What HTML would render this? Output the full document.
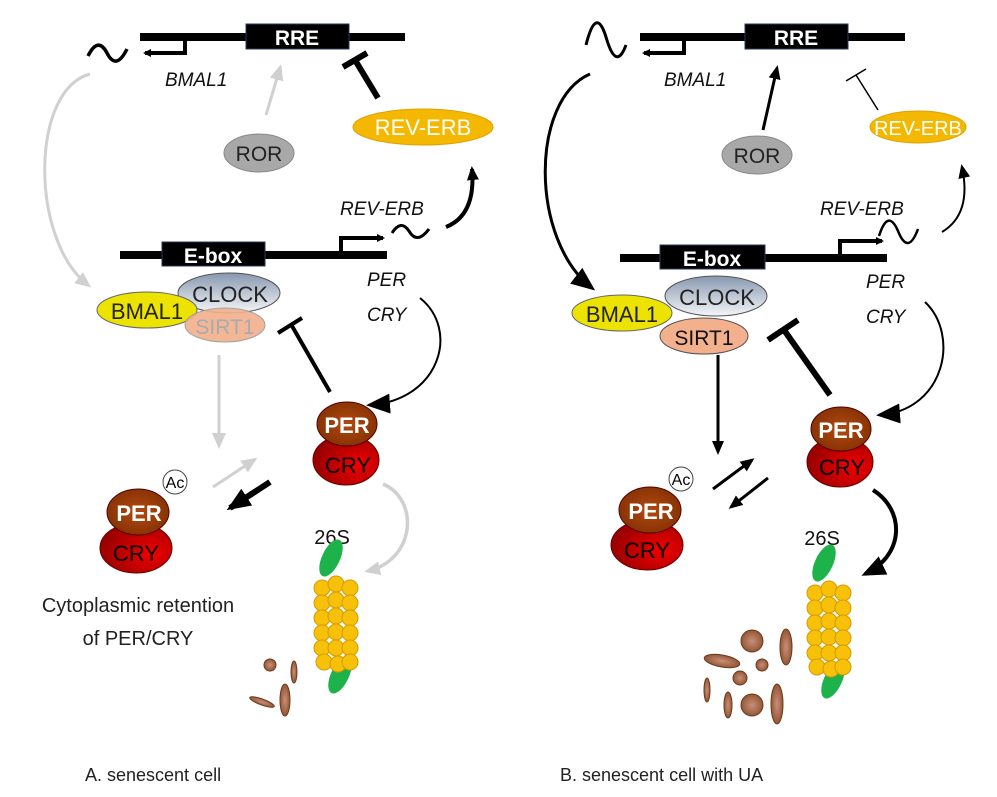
<!DOCTYPE html>
<html><head><meta charset="utf-8"><style>
html,body{margin:0;padding:0;background:#fff}
svg{display:block}
text{font-family:"Liberation Sans","DejaVu Sans",sans-serif}
</style></head><body>
<svg width="997" height="797" viewBox="0 0 997 797" xmlns="http://www.w3.org/2000/svg">
<defs>
<radialGradient id="cry" cx="0.7" cy="0.6" r="0.8"><stop offset="0" stop-color="#f00000"/><stop offset="1" stop-color="#8a0000"/></radialGradient>
<radialGradient id="per" cx="0.5" cy="0.5" r="0.7"><stop offset="0" stop-color="#b04a10"/><stop offset="1" stop-color="#7a2a00"/></radialGradient>
<linearGradient id="clk" x1="0" y1="0" x2="0" y2="1"><stop offset="0" stop-color="#8898b0"/><stop offset="1" stop-color="#f4f6f8"/></linearGradient>
<radialGradient id="frag" cx="0.5" cy="0.5" r="0.6"><stop offset="0" stop-color="#c89078"/><stop offset="1" stop-color="#8a4a2a"/></radialGradient>
<marker id="ab" markerWidth="8" markerHeight="8" refX="6" refY="4" orient="auto" markerUnits="userSpaceOnUse"><path d="M0,0 L8,4 L0,8z" fill="#000"/></marker>
<marker id="abL" markerWidth="24" markerHeight="20" refX="20" refY="10" orient="auto" markerUnits="userSpaceOnUse"><path d="M0,0 L24,10 L0,20z" fill="#000"/></marker>
<marker id="ag" markerWidth="16" markerHeight="14" refX="12" refY="7" orient="auto" markerUnits="userSpaceOnUse"><path d="M0,0 L16,7 L0,14z" fill="#d0d0d0"/></marker>
<marker id="ab2" markerWidth="14" markerHeight="12" refX="11" refY="6" orient="auto" markerUnits="userSpaceOnUse"><path d="M0,0 L14,6 L0,12z" fill="#000"/></marker>
<g id="proteasome">
<ellipse cx="-3" cy="-12" rx="9" ry="20" transform="rotate(25 -3 -12)" fill="#1db34a"/>
<ellipse cx="6" cy="105" rx="9" ry="20" transform="rotate(25 6 105)" fill="#1db34a"/>
<g fill="#f7c10a" stroke="#d49a00" stroke-width="1">
<circle cx="-12" cy="18" r="8"/><circle cx="2" cy="14" r="8"/><circle cx="16" cy="18" r="8"/>
<circle cx="-12" cy="33" r="8"/><circle cx="2" cy="30" r="8"/><circle cx="16" cy="33" r="8"/>
<circle cx="-12" cy="48" r="8"/><circle cx="2" cy="46" r="8"/><circle cx="16" cy="48" r="8"/>
<circle cx="-12" cy="63" r="8"/><circle cx="2" cy="62" r="8"/><circle cx="16" cy="63" r="8"/>
<circle cx="-12" cy="78" r="8"/><circle cx="2" cy="78" r="8"/><circle cx="16" cy="78" r="8"/>
<circle cx="-10" cy="92" r="8"/><circle cx="4" cy="94" r="8"/><circle cx="16" cy="92" r="8"/>
</g></g>
</defs>

<!-- ============ PANEL A ============ -->
<g>
<line x1="140" y1="37" x2="405" y2="37" stroke="#000" stroke-width="8"/>
<rect x="246" y="24" width="103" height="25" fill="#000" stroke="#2a3a5a"/>
<text x="297" y="45" font-size="21" font-weight="bold" fill="#fff" text-anchor="middle">RRE</text>
<polyline points="185,37 185,53 145,53" fill="none" stroke="#000" stroke-width="4" marker-end="url(#ab)"/>
<path d="M88,56 q10,-20 19,-3 q9,18 20,-4" fill="none" stroke="#000" stroke-width="3.5"/>
<text x="165" y="86" font-size="19" font-style="italic" fill="#111">BMAL1</text>
<line x1="266" y1="115" x2="280" y2="68" stroke="#d0d0d0" stroke-width="3" marker-end="url(#ag)"/>
<line x1="378" y1="98" x2="355" y2="60" stroke="#000" stroke-width="6"/>
<line x1="343" y1="67" x2="367" y2="53" stroke="#000" stroke-width="6"/>
<ellipse cx="423" cy="127" rx="70" ry="18" fill="#f5b800" stroke="#e0a000"/>
<text x="423" y="135" font-size="22" fill="#fff" text-anchor="middle">REV-ERB</text>
<ellipse cx="259" cy="153" rx="35" ry="19" fill="#a8a8a8" stroke="#888"/>
<text x="259" y="161" font-size="21" fill="#222" text-anchor="middle">ROR</text>
<text x="340" y="215" font-size="19" font-style="italic" fill="#111">REV-ERB</text>
<path d="M392,233 q9,-14 17,-2 q8,14 20,-2" fill="none" stroke="#000" stroke-width="3"/>
<path d="M446,227 q30,-12 26,-58" fill="none" stroke="#000" stroke-width="4" marker-end="url(#ab2)"/>
<line x1="120" y1="255" x2="387" y2="255" stroke="#000" stroke-width="8"/>
<rect x="162" y="242" width="103" height="24" fill="#000" stroke="#2a3a5a"/>
<text x="213" y="263" font-size="21" font-weight="bold" fill="#fff" text-anchor="middle">E-box</text>
<polyline points="341,255 341,238 383,238" fill="none" stroke="#000" stroke-width="4" marker-end="url(#ab)"/>
<text x="367" y="286" font-size="19" font-style="italic" fill="#111">PER</text>
<text x="367" y="321" font-size="19" font-style="italic" fill="#111">CRY</text>
<path d="M90,74 C30,90 30,240 88,285" fill="none" stroke="#d0d0d0" stroke-width="3" marker-end="url(#ag)"/>
<ellipse cx="229" cy="293" rx="51" ry="20" fill="url(#clk)" stroke="#555"/>
<text x="230" y="302" font-size="22" fill="#222" text-anchor="middle">CLOCK</text>
<ellipse cx="147" cy="310" rx="50" ry="18" fill="#ece400" stroke="#666"/>
<text x="147" y="319" font-size="22" fill="#222" text-anchor="middle">BMAL1</text>
<ellipse cx="225" cy="325" rx="40" ry="17" fill="#f2b08c" stroke="#999" opacity="0.9"/>
<text x="225" y="334" font-size="21" fill="#aaa" text-anchor="middle">SIRT1</text>
<line x1="330" y1="392" x2="292" y2="326" stroke="#000" stroke-width="4"/>
<line x1="278" y1="333" x2="302" y2="318" stroke="#000" stroke-width="4"/>
<path d="M420,298 C460,330 440,400 370,405" fill="none" stroke="#000" stroke-width="2" marker-end="url(#abL)"/>
<line x1="219" y1="355" x2="219" y2="445" stroke="#d0d0d0" stroke-width="3" marker-end="url(#ag)"/>
<ellipse cx="346" cy="460" rx="33" ry="25" fill="url(#cry)" stroke="#600"/>
<text x="348" y="473" font-size="22" fill="#000" text-anchor="middle">CRY</text>
<ellipse cx="347" cy="424" rx="30" ry="22" fill="url(#per)" stroke="#500"/>
<text x="347" y="433" font-size="22" font-weight="bold" fill="#fff" text-anchor="middle">PER</text>
<line x1="213" y1="487" x2="254" y2="460" stroke="#d0d0d0" stroke-width="3" marker-end="url(#ag)"/>
<line x1="270" y1="482" x2="230" y2="508" stroke="#000" stroke-width="6" marker-end="url(#abL)"/>
<circle cx="175" cy="482" r="12" fill="#fff" stroke="#444"/>
<text x="175" y="488" font-size="16" fill="#000" text-anchor="middle">Ac</text>
<ellipse cx="136" cy="548" rx="36" ry="25" fill="url(#cry)" stroke="#600"/>
<text x="136" y="561" font-size="22" fill="#000" text-anchor="middle">CRY</text>
<ellipse cx="138" cy="512" rx="31" ry="23" fill="url(#per)" stroke="#500"/>
<text x="139" y="521" font-size="22" font-weight="bold" fill="#fff" text-anchor="middle">PER</text>
<text x="138" y="612" font-size="20" fill="#222" text-anchor="middle">Cytoplasmic retention</text>
<text x="138" y="645" font-size="20" fill="#222" text-anchor="middle">of PER/CRY</text>
<text x="332" y="544" font-size="20" fill="#111" text-anchor="middle">26S</text>
<path d="M383,484 C420,500 415,560 368,571" fill="none" stroke="#d0d0d0" stroke-width="3.5" marker-end="url(#ag)"/>
<use href="#proteasome" x="334" y="570"/>
<circle cx="270" cy="665" r="6" fill="url(#frag)" stroke="#6a3a1a"/>
<ellipse cx="294" cy="672" rx="3" ry="11" fill="url(#frag)" stroke="#6a3a1a"/>
<ellipse cx="285" cy="700" rx="5" ry="16" fill="url(#frag)" stroke="#6a3a1a"/>
<ellipse cx="262" cy="702" rx="13" ry="3" transform="rotate(20 262 702)" fill="url(#frag)" stroke="#6a3a1a"/>
<text x="85" y="781" font-size="18" fill="#222">A. senescent cell</text>
</g>

<!-- ============ PANEL B ============ -->
<g>
<line x1="640" y1="37" x2="905" y2="37" stroke="#000" stroke-width="8"/>
<rect x="745" y="24" width="103" height="25" fill="#000" stroke="#2a3a5a"/>
<text x="796" y="45" font-size="21" font-weight="bold" fill="#fff" text-anchor="middle">RRE</text>
<polyline points="684,37 684,53 644,53" fill="none" stroke="#000" stroke-width="4" marker-end="url(#ab)"/>
<path d="M586,45 q10,-40 20,-8 q10,35 20,8" fill="none" stroke="#000" stroke-width="3"/>
<text x="664" y="86" font-size="19" font-style="italic" fill="#111">BMAL1</text>
<line x1="763" y1="130" x2="777" y2="68" stroke="#000" stroke-width="3" marker-end="url(#ab2)"/>
<line x1="878" y1="110" x2="856" y2="75" stroke="#000" stroke-width="1.5"/>
<line x1="846" y1="81" x2="866" y2="69" stroke="#000" stroke-width="1.5"/>
<ellipse cx="918" cy="127" rx="48" ry="16" fill="#f5b800" stroke="#e0a000"/>
<text x="918" y="135" font-size="20" fill="#fff" text-anchor="middle">REV-ERB</text>
<ellipse cx="757" cy="155" rx="35" ry="19" fill="#a8a8a8" stroke="#888"/>
<text x="757" y="163" font-size="21" fill="#222" text-anchor="middle">ROR</text>
<text x="820" y="215" font-size="19" font-style="italic" fill="#111">REV-ERB</text>
<path d="M879,236 q9,-28 19,-5 q10,25 20,-2" fill="none" stroke="#000" stroke-width="2.5"/>
<path d="M942,232 q30,-18 20,-65" fill="none" stroke="#000" stroke-width="2" marker-end="url(#ab2)"/>
<line x1="620" y1="258" x2="887" y2="258" stroke="#000" stroke-width="8"/>
<rect x="660" y="245" width="105" height="24" fill="#000" stroke="#2a3a5a"/>
<text x="712" y="266" font-size="21" font-weight="bold" fill="#fff" text-anchor="middle">E-box</text>
<polyline points="840,258 840,241 882,241" fill="none" stroke="#000" stroke-width="4" marker-end="url(#ab)"/>
<text x="866" y="288" font-size="19" font-style="italic" fill="#111">PER</text>
<text x="866" y="323" font-size="19" font-style="italic" fill="#111">CRY</text>
<path d="M590,74 C530,100 530,240 592,288" fill="none" stroke="#000" stroke-width="3" marker-end="url(#abL)"/>
<ellipse cx="716" cy="296" rx="51" ry="20" fill="url(#clk)" stroke="#555"/>
<text x="717" y="305" font-size="22" fill="#222" text-anchor="middle">CLOCK</text>
<ellipse cx="622" cy="313" rx="50" ry="18" fill="#ece400" stroke="#666"/>
<text x="622" y="322" font-size="22" fill="#222" text-anchor="middle">BMAL1</text>
<ellipse cx="704" cy="336" rx="44" ry="18" fill="#f2b08c" stroke="#555"/>
<text x="704" y="345" font-size="21" fill="#111" text-anchor="middle">SIRT1</text>
<line x1="830" y1="395" x2="784" y2="330" stroke="#000" stroke-width="6"/>
<line x1="768" y1="340" x2="798" y2="320" stroke="#000" stroke-width="6"/>
<path d="M925,302 C960,335 945,410 880,415" fill="none" stroke="#000" stroke-width="2" marker-end="url(#abL)"/>
<line x1="718" y1="355" x2="718" y2="452" stroke="#000" stroke-width="3" marker-end="url(#ab2)"/>
<ellipse cx="840" cy="462" rx="33" ry="25" fill="url(#cry)" stroke="#600"/>
<text x="842" y="475" font-size="22" fill="#000" text-anchor="middle">CRY</text>
<ellipse cx="841" cy="429" rx="30" ry="22" fill="url(#per)" stroke="#500"/>
<text x="841" y="438" font-size="22" font-weight="bold" fill="#fff" text-anchor="middle">PER</text>
<line x1="713" y1="489" x2="752" y2="460" stroke="#000" stroke-width="3" marker-end="url(#ab2)"/>
<line x1="768" y1="478" x2="731" y2="507" stroke="#000" stroke-width="3" marker-end="url(#ab2)"/>
<circle cx="681" cy="479" r="12" fill="#fff" stroke="#444"/>
<text x="681" y="485" font-size="16" fill="#000" text-anchor="middle">Ac</text>
<ellipse cx="647" cy="545" rx="36" ry="25" fill="url(#cry)" stroke="#600"/>
<text x="647" y="558" font-size="22" fill="#000" text-anchor="middle">CRY</text>
<ellipse cx="650" cy="510" rx="31" ry="23" fill="url(#per)" stroke="#500"/>
<text x="651" y="519" font-size="22" font-weight="bold" fill="#fff" text-anchor="middle">PER</text>
<text x="822" y="545" font-size="20" fill="#111" text-anchor="middle">26S</text>
<path d="M873,490 C905,510 905,555 865,574" fill="none" stroke="#000" stroke-width="4" marker-end="url(#abL)"/>
<use href="#proteasome" x="827" y="575"/>
<circle cx="752" cy="641" r="11" fill="url(#frag)" stroke="#6a3a1a"/>
<ellipse cx="786" cy="647" rx="6" ry="18" fill="url(#frag)" stroke="#6a3a1a"/>
<ellipse cx="722" cy="661" rx="18" ry="6" transform="rotate(10 722 661)" fill="url(#frag)" stroke="#6a3a1a"/>
<circle cx="762" cy="665" r="6" fill="url(#frag)" stroke="#6a3a1a"/>
<circle cx="740" cy="678" r="7" fill="url(#frag)" stroke="#6a3a1a"/>
<ellipse cx="707" cy="690" rx="3" ry="12" fill="url(#frag)" stroke="#6a3a1a"/>
<ellipse cx="728" cy="705" rx="4" ry="13" fill="url(#frag)" stroke="#6a3a1a"/>
<circle cx="752" cy="705" r="11" fill="url(#frag)" stroke="#6a3a1a"/>
<ellipse cx="777" cy="704" rx="6" ry="20" fill="url(#frag)" stroke="#6a3a1a"/>
<text x="560" y="781" font-size="18" fill="#222">B. senescent cell with UA</text>
</g>
</svg>
</body></html>
